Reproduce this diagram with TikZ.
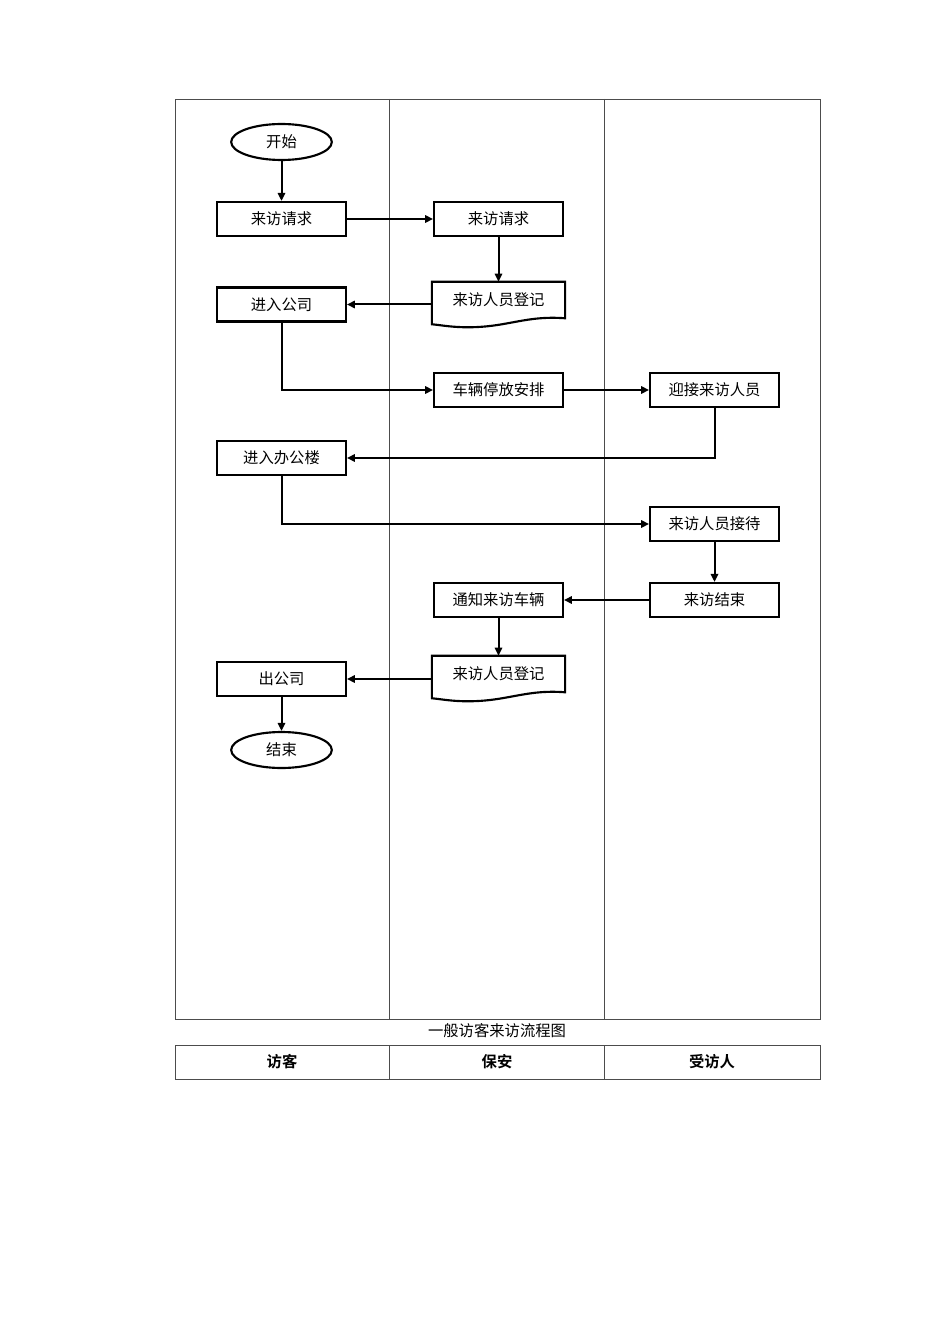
\documentclass[tikz,border=0pt]{standalone}
\usepackage{fontspec}
\newfontfamily\cjk{Noto Sans CJK SC}
\newfontfamily\cjkbold{Noto Sans CJK SC Bold}
\usetikzlibrary{shapes.geometric,arrows.meta,calc}

\begin{document}
\begin{tikzpicture}[
        x=0.75pt, y=-0.75pt,
        every node/.style={font=\cjk\fontsize{11.5}{14}\selectfont},
        lane/.style={draw=black!70, line width=0.6pt},
        stepbox/.style={draw, line width=1.6pt, rectangle, inner sep=0pt, minimum width=96.5pt, minimum height=25.5pt},
        terminal/.style={draw, line width=1.6pt, ellipse, inner sep=0pt, minimum width=75.5pt, minimum height=27pt},
        docbox/.style={rectangle, inner sep=0pt, minimum width=99.5pt, minimum height=27pt},
        arr/.style={line width=1.5pt, -{Triangle[length=6pt,width=5.5pt]}}
    ]
    \useasboundingbox (0,0) rectangle (950,1344);

    % swim lanes
    \draw[lane] (175,99) rectangle (820,1019);
    \draw[lane] (389,99) -- (389,1019);
    \draw[lane] (604,99) -- (604,1019);
    \node (title) at (497,1031) {一般访客来访流程图};
    \draw[lane] (175,1045) rectangle (820,1079);
    \draw[lane] (389,1045) -- (389,1079);
    \draw[lane] (604,1045) -- (604,1079);
    \node[font=\cjkbold\fontsize{11.5}{14}\selectfont] (visitor) at (282,1062) {访客};
    \node[font=\cjkbold\fontsize{11.5}{14}\selectfont] (guard) at (497,1062) {保安};
    \node[font=\cjkbold\fontsize{11.5}{14}\selectfont] (host) at (712,1062) {受访人};

    % flow
    \node[terminal] (start) at (281.5,142) {开始};
    \node[stepbox] (req1) at (281.5,219) {来访请求};
    \node[stepbox] (req2) at (498.5,219) {来访请求};
    \node[docbox] (reg1) at (498.5,300) {来访人员登记};
    \node[stepbox] (enter) at (281.5,304.5) {进入公司};
    \node[stepbox] (park) at (498.5,390) {车辆停放安排};
    \node[stepbox] (meet) at (714.5,390) {迎接来访人员};
    \node[stepbox] (office) at (281.5,458) {进入办公楼};
    \node[stepbox] (recv) at (714.5,524) {来访人员接待};
    \node[stepbox] (finish) at (714.5,600) {来访结束};
    \node[stepbox] (notify) at (498.5,600) {通知来访车辆};
    \node[docbox] (reg2) at (498.5,674) {来访人员登记};
    \node[stepbox] (leave) at (281.5,679) {出公司};
    \node[terminal] (stop) at (281.5,750) {结束};

    % document outlines
    \foreach \d in {reg1,reg2}
        \draw[line width=1.6pt] ($(\d.south west)+(0,6)$) -- (\d.north west) -- (\d.north east) -- (\d.south east)
            .. controls +(-40,-3) and +(40,0) .. ($(\d.south west)+(36,9)$)
            .. controls +(-16,0) and +(10,1) .. ($(\d.south west)+(0,6)$) -- cycle;

    \draw[arr] (start) -- (req1);
    \draw[arr] (req1) -- (req2);
    \draw[arr] (req2) -- (reg1);
    \draw[arr] (reg1.west |- enter) -- (enter);
    \draw[arr] (enter.south) |- (park);
    \draw[arr] (park) -- (meet);
    \draw[arr] (meet.south) |- (office);
    \draw[arr] (office.south) |- (recv);
    \draw[arr] (recv) -- (finish);
    \draw[arr] (finish) -- (notify);
    \draw[arr] (notify) -- (reg2);
    \draw[arr] (reg2.west |- leave) -- (leave);
    \draw[arr] (leave) -- (stop);
\end{tikzpicture}
\end{document}
